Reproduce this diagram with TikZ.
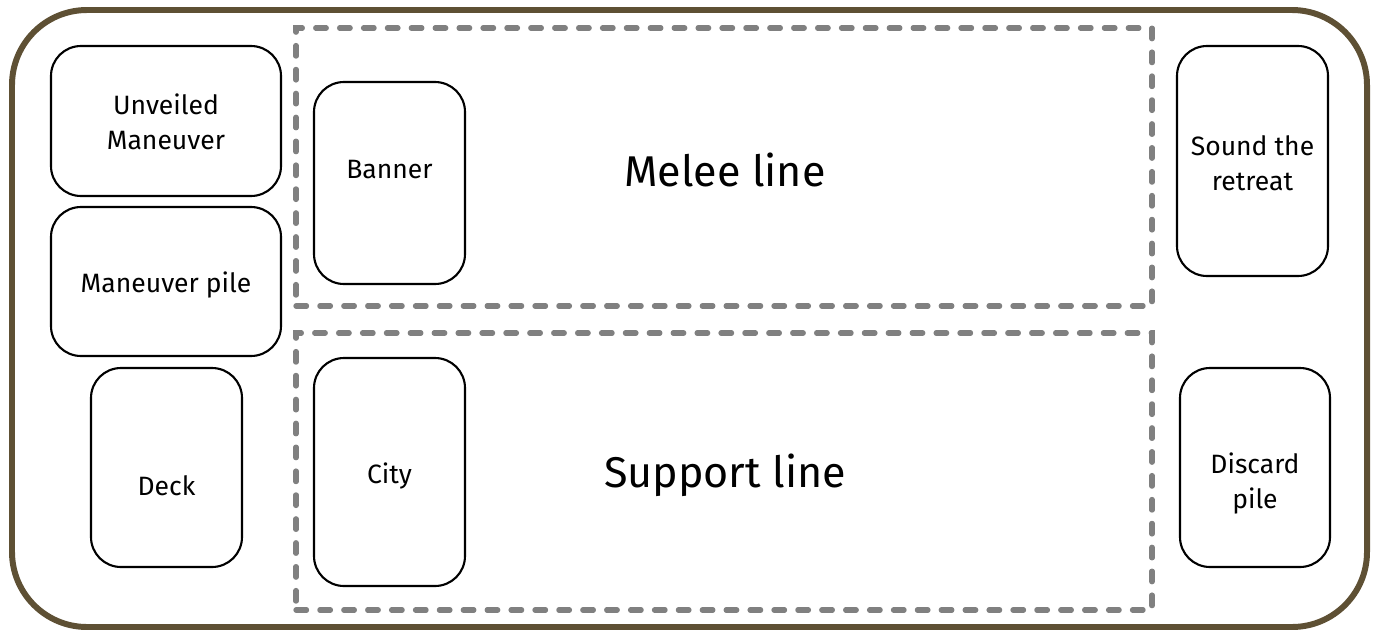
\documentclass[tikz,border=0pt]{standalone}
\usepackage{fontspec}
\setmainfont{Fira Sans}
\usepackage{tikz}
\usetikzlibrary{positioning,calc}
\definecolor{boardbrown}{HTML}{5E5034}
\definecolor{zonegray}{HTML}{808080}

\begin{document}
\begin{tikzpicture}[
        x=1cm, y=1cm,
        card/.style={rectangle, draw=black, line width=1.2pt, rounded corners=0.6cm, inner sep=0pt},
        cardtext/.style={align=center, inner sep=0pt, font=\fontsize{15.1}{20}\selectfont},
        zone/.style={rectangle, draw=zonegray, line width=3pt, dash pattern=on 6pt off 7.6pt, line cap=round, inner sep=0pt},
        board/.style={draw=boardbrown, line width=3.4pt, rounded corners=1.5cm}
    ]
        \useasboundingbox (0,0) rectangle (27.62,-12.64);
        % Spielbrett
        \draw[board] (0.24,-0.2) rectangle (27.34,-12.54);

        % Zonen
        \node[zone, minimum width=17.12cm, minimum height=5.56cm] (melee) at (14.48,-3.34) {};
        \node[zone, minimum width=17.12cm, minimum height=5.54cm] (support) at (14.48,-9.43) {};
        \node[cardtext, font=\fontsize{24.5}{28}\selectfont] (meleetext) at ($(melee)+(0.02,-0.06)$) {Melee line};
        \node[cardtext, font=\fontsize{24.5}{28}\selectfont] (supporttext) at ($(support)+(0.02,-0.08)$) {Support line};

        % Karten links
        \node[card, minimum width=4.6cm, minimum height=3cm] (unveiled) at (3.32,-2.42) {};
        \node[card, minimum width=4.6cm, minimum height=2.98cm] (pile) at (3.32,-5.63) {};
        \node[card, minimum width=3.02cm, minimum height=3.98cm] (deck) at (3.33,-9.35) {};
        \node[cardtext] (unveiledtext) at ($(unveiled)+(0,-0.02)$) {Unveiled\\Maneuver};
        \node[cardtext] (piletext) at ($(pile)+(0,-0.06)$) {Maneuver pile};
        \node[cardtext] (decktext) at ($(deck)+(0,-0.36)$) {Deck};

        % Karten in den Zonen
        \node[card, minimum width=3.02cm, minimum height=4.04cm] (banner) at (7.79,-3.66) {};
        \node[card, minimum width=3.02cm, minimum height=4.56cm] (city) at (7.79,-9.44) {};
        \node[cardtext] (bannertext) at ($(banner)+(0,0.26)$) {Banner};
        \node[cardtext] (citytext) at ($(city)+(0,-0.08)$) {City};

        % Karten rechts
        \node[card, minimum width=3.02cm, minimum height=4.6cm] (retreat) at (25.05,-3.22) {};
        \node[card, minimum width=3cm, minimum height=3.98cm] (discard) at (25.10,-9.35) {};
        \node[cardtext] (retreattext) at ($(retreat)+(0,-0.04)$) {Sound the\\retreat};
        \node[cardtext] (discardtext) at ($(discard)+(0,-0.32)$) {Discard\\pile};

    \end{tikzpicture}
\end{document}
